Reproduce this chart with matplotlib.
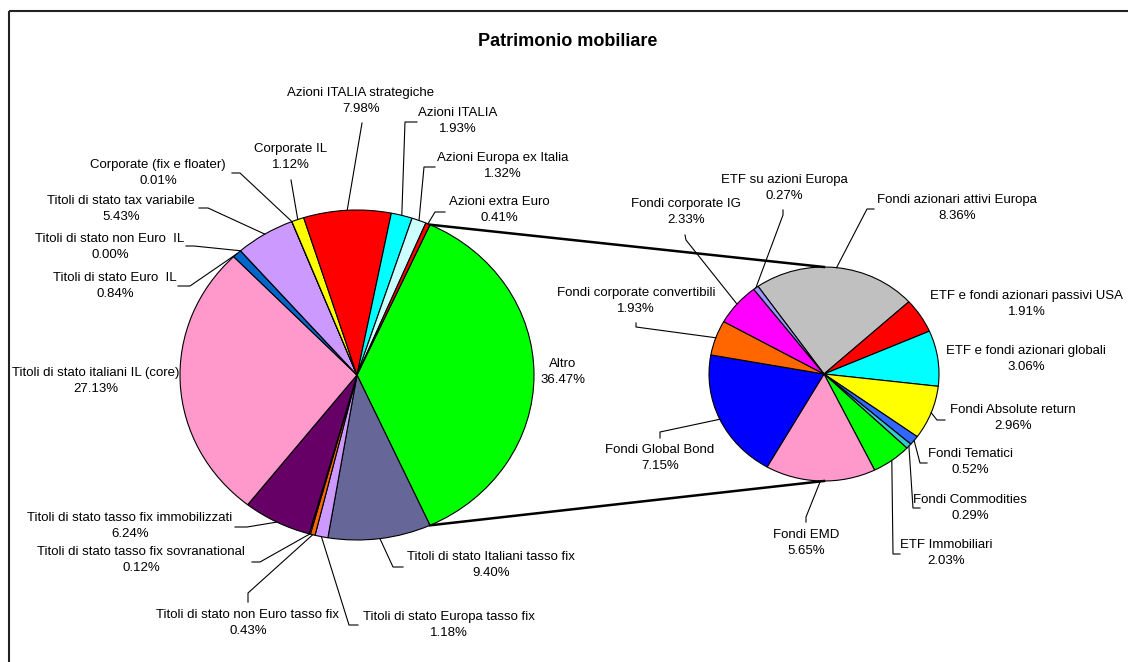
import matplotlib
matplotlib.use("Agg")
import matplotlib.pyplot as plt
from matplotlib.patches import Rectangle
import numpy as np

plt.rcParams['font.family'] = ['Liberation Sans', 'DejaVu Sans']

# -------------------- data --------------------
title = "Patrimonio mobiliare"

# first pie, clockwise starting from the "Altro" slice
left_labels = ["Altro", "Titoli di stato Italiani tasso fix", "Titoli di stato Europa tasso fix",
               "Titoli di stato non Euro tasso fix", "Titoli di stato tasso fix sovranational",
               "Titoli di stato tasso fix immobilizzati", "Titoli di stato italiani IL (core)",
               "Titoli di stato Euro  IL", "Titoli di stato non Euro  IL", "Titoli di stato tax variabile",
               "Corporate (fix e floater)", "Corporate IL", "Azioni ITALIA strategiche",
               "Azioni ITALIA", "Azioni Europa ex Italia", "Azioni extra Euro"]
left_values = [36.47, 9.40, 1.18, 0.43, 0.12, 6.24, 27.13, 0.84, 0.00, 5.43, 0.01, 1.12, 7.98, 1.93, 1.32, 0.41]
left_colors = ['#00FF00', '#666699', '#CC99FF', '#FF6600', '#FFCC99', '#660066', '#FF99CC', '#0066CC',
               '#99CCFF', '#CC99FF', '#99CCFF', '#FFFF00', '#FF0000', '#00FFFF', '#CCFFFF', '#FF0000']

# second pie (breakdown of "Altro"), clockwise
right_labels = ["Fondi azionari attivi Europa", "ETF e fondi azionari passivi USA",
                "ETF e fondi azionari globali", "Fondi Absolute return", "Fondi Tematici",
                "Fondi Commodities", "ETF Immobiliari", "Fondi EMD", "Fondi Global Bond",
                "Fondi corporate convertibili", "Fondi corporate IG", "ETF su azioni Europa"]
right_values = [8.36, 1.91, 3.06, 2.96, 0.52, 0.29, 2.03, 5.65, 7.15, 1.93, 2.33, 0.27]
right_colors = ['#C0C0C0', '#FF0000', '#00FFFF', '#FFFF00', '#3366FF', '#33CCCC', '#00FF00',
                '#FF99CC', '#0000FF', '#FF6600', '#FF00FF', '#9999FF']

# -------------------- layout (pixels) --------------------
W, H = 1128, 662
left_geom = (357, 375, 177, 165)    # cx, cy, rx, ry
right_geom = (824, 374, 115, 107)
right_start = 125

# label block centre, then leader waypoints from the label towards the slice
label_pos = {
    "Altro": ((563, 372), []),
    "Titoli di stato Italiani tasso fix": ((491, 565), [(403, 567), (393, 567)]),
    "Titoli di stato Europa tasso fix": ((449, 625), [(358, 625), (349, 625)]),
    "Titoli di stato non Euro tasso fix": ((248, 623), [(248, 602), (248, 593)]),
    "Titoli di stato tasso fix sovranational": ((141, 560), [(252, 562), (260, 562)]),
    "Titoli di stato tasso fix immobilizzati": ((130, 526), [(235, 527), (247, 527)]),
    "Titoli di stato italiani IL (core)": ((96, 381), []),
    "Titoli di stato Euro  IL": ((115, 286), [(178, 286), (190, 286)]),
    "Titoli di stato non Euro  IL": ((110, 247), [(186, 246), (194, 246)]),
    "Titoli di stato tax variabile": ((121, 209), [(199, 208), (208, 208)]),
    "Corporate (fix e floater)": ((158, 173), [(232, 173), (240, 173)]),
    "Corporate IL": ((291, 157), [(291, 180)]),
    "Azioni ITALIA strategiche": ((361, 101), [(362, 123)]),
    "Azioni ITALIA": ((458, 121), [(417, 122), (405, 122)]),
    "Azioni Europa ex Italia": ((503, 166), [(435, 167), (424, 167)]),
    "Azioni extra Euro": ((499, 210), [(445, 212), (435, 212)]),
    "Fondi azionari attivi Europa": ((957, 208), [(874, 209), (867, 209)]),
    "ETF e fondi azionari passivi USA": ((1027, 304), []),
    "ETF e fondi azionari globali": ((1026, 359), []),
    "Fondi Absolute return": ((1013, 418), [(945, 420), (937, 420)]),
    "Fondi Tematici": ((970, 462), [(927, 463), (920, 463)]),
    "Fondi Commodities": ((970, 508), [(920, 508), (913, 508)]),
    "ETF Immobiliari": ((946, 553), [(900, 554), (893, 554)]),
    "Fondi EMD": ((806, 543), [(806, 522), (806, 517)]),
    "Fondi Global Bond": ((660, 458), [(660, 438), (660, 432)]),
    "Fondi corporate convertibili": ((636, 301), [(636, 323), (636, 327)]),
    "Fondi corporate IG": ((686, 212), [(685, 235), (686, 240)]),
    "ETF su azioni Europa": ((784, 188), [(783, 210), (783, 215)]),
}

fig = plt.figure(figsize=(W / 100, H / 100), dpi=100)
fig.patch.set_facecolor('white')


def pie_axes(geom):
    cx, cy, rx, ry = geom
    return fig.add_axes([(cx - rx) / W, 1 - (cy + ry) / H, 2 * rx / W, 2 * ry / H])


def draw_pie(ax, values, colors, start):
    wedges, _ = ax.pie(values, colors=colors, startangle=start, counterclock=False, radius=1,
                       wedgeprops=dict(edgecolor='black', linewidth=0.8))
    ax.set_aspect('auto')
    ax.set_xlim(-1, 1)
    ax.set_ylim(-1, 1)
    ax.axis('off')
    return wedges


axL = pie_axes(left_geom)
left_start = 360 * left_values[0] / sum(left_values) / 2   # "Altro" faces the second pie
wL = draw_pie(axL, left_values, left_colors, left_start)

axR = pie_axes(right_geom)
wR = draw_pie(axR, right_values, right_colors, right_start)

ov = fig.add_axes([0, 0, 1, 1])
ov.set_xlim(0, W)
ov.set_ylim(H, 0)
ov.axis('off')
ov.patch.set_alpha(0)


def edge_point(ax, deg):
    t = np.deg2rad(deg)
    disp = ax.transData.transform((np.cos(t), np.sin(t)))
    return ov.transData.inverted().transform(disp)


# connector lines between the "Altro" slice and the second pie
for a_left, a_right in [(wL[0].theta2, 90), (wL[0].theta1, -90)]:
    p = edge_point(axL, a_left)
    q = edge_point(axR, a_right)
    ov.plot([p[0], q[0]], [p[1], q[1]], color='black', lw=1.8)

# labels and leader lines
for ax, wedges, labels, values in [(axL, wL, left_labels, left_values), (axR, wR, right_labels, right_values)]:
    for w, lab, v in zip(wedges, labels, values):
        (tx, ty), pts = label_pos[lab]
        ov.text(tx, ty, f"{lab}\n{v:.2f}%", ha='center', va='center', fontsize=9.5,
                linespacing=1.45, color='black')
        if pts:
            end = edge_point(ax, (w.theta1 + w.theta2) / 2)
            xs = [p[0] for p in pts] + [end[0]]
            ys = [p[1] for p in pts] + [end[1]]
            ov.plot(xs, ys, color='black', lw=0.8)

ov.text(568, 41, title, ha='center', va='center', fontsize=13, fontweight='bold')
ov.add_patch(Rectangle((9, 11), W + 20, H + 20, fill=False, edgecolor='#222222', lw=1.5))

fig.savefig("out.png", dpi=100)
